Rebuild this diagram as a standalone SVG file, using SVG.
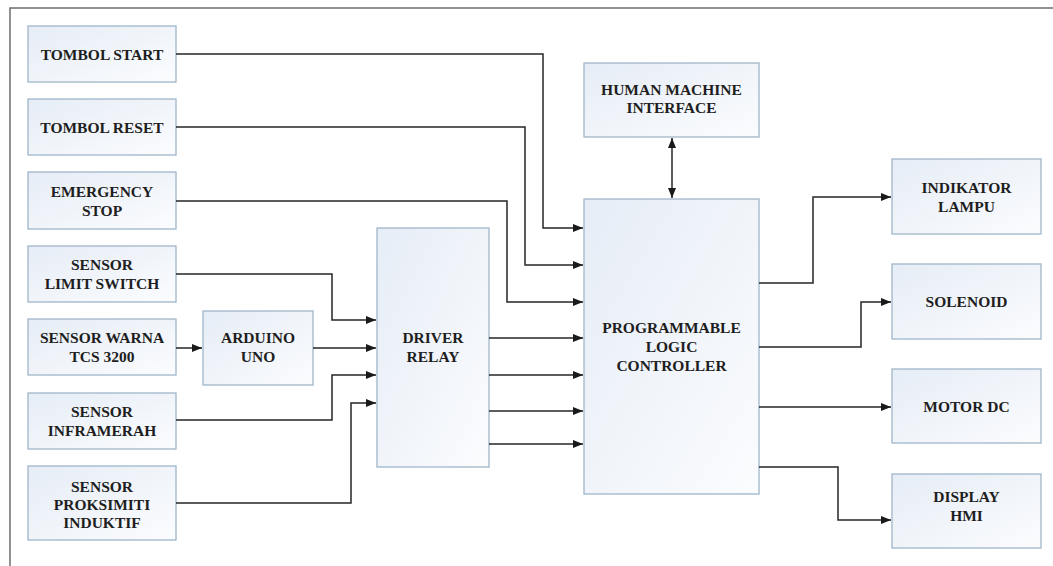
<svg xmlns="http://www.w3.org/2000/svg" width="1053" height="566" viewBox="0 0 1053 566">
<defs>
<linearGradient id="g" x1="0" y1="0" x2="1" y2="1">
<stop offset="0" stop-color="#e6edf6"/>
<stop offset="1" stop-color="#fbfcfe"/>
</linearGradient>
<marker id="ah" viewBox="0 0 10 8" refX="10" refY="4" markerWidth="10" markerHeight="8" markerUnits="userSpaceOnUse" orient="auto-start-reverse">
<path d="M0,0 L10,4 L0,8 z" fill="#1a1a1a"/>
</marker>
<style>
.box{fill:url(#g);stroke:#9fb6c9;stroke-width:1.3}
.t{font-family:"Liberation Serif","Times New Roman",serif;font-weight:bold;font-size:15.5px;fill:#1e1e1e;text-anchor:middle}
.c{fill:none;stroke:#262626;stroke-width:1.5}
.a{marker-end:url(#ah)}
.frame{fill:none;stroke:#6e6e6e;stroke-width:1.5}
</style>
</defs>
<rect width="1053" height="566" fill="#ffffff"/>
<path class="frame" d="M10,566 L10,8 L1053,8"/>

<g id="tombol-start"><rect class="box" x="28" y="26" width="148" height="56"/><text class="t" x="102" y="60">TOMBOL START</text></g>
<g id="tombol-reset"><rect class="box" x="28" y="99" width="148" height="56"/><text class="t" x="102" y="133">TOMBOL RESET</text></g>
<g id="emergency-stop"><rect class="box" x="28" y="172" width="148" height="57"/><text class="t" x="102" y="197">EMERGENCY</text><text class="t" x="102" y="216">STOP</text></g>
<g id="limit-switch"><rect class="box" x="28" y="246" width="148" height="56"/><text class="t" x="102" y="270">SENSOR</text><text class="t" x="102" y="289">LIMIT SWITCH</text></g>
<g id="sensor-warna"><rect class="box" x="28" y="319" width="148" height="56"/><text class="t" x="102" y="343">SENSOR WARNA</text><text class="t" x="102" y="362">TCS 3200</text></g>
<g id="inframerah"><rect class="box" x="28" y="393" width="148" height="56"/><text class="t" x="102" y="417">SENSOR</text><text class="t" x="102" y="436">INFRAMERAH</text></g>
<g id="proksimiti"><rect class="box" x="28" y="466" width="148" height="74"/><text class="t" x="102" y="492">SENSOR</text><text class="t" x="102" y="510">PROKSIMITI</text><text class="t" x="102" y="528">INDUKTIF</text></g>
<g id="arduino"><rect class="box" x="203" y="311" width="110" height="74"/><text class="t" x="258" y="343">ARDUINO</text><text class="t" x="258" y="362">UNO</text></g>
<g id="driver-relay"><rect class="box" x="377" y="228" width="112" height="239"/><text class="t" x="433" y="343">DRIVER</text><text class="t" x="433" y="362">RELAY</text></g>
<g id="hmi"><rect class="box" x="584" y="63" width="175" height="74"/><text class="t" x="671.5" y="95">HUMAN MACHINE</text><text class="t" x="671.5" y="113">INTERFACE</text></g>
<g id="plc"><rect class="box" x="584" y="199" width="175" height="295"/><text class="t" x="671.5" y="333">PROGRAMMABLE</text><text class="t" x="671.5" y="352">LOGIC</text><text class="t" x="671.5" y="371">CONTROLLER</text></g>
<g id="indikator"><rect class="box" x="892" y="159" width="149" height="75"/><text class="t" x="966.5" y="193">INDIKATOR</text><text class="t" x="966.5" y="212">LAMPU</text></g>
<g id="solenoid"><rect class="box" x="892" y="264" width="149" height="75"/><text class="t" x="966.5" y="307">SOLENOID</text></g>
<g id="motor-dc"><rect class="box" x="892" y="369" width="149" height="74"/><text class="t" x="966.5" y="412">MOTOR DC</text></g>
<g id="display-hmi"><rect class="box" x="892" y="474" width="149" height="74"/><text class="t" x="966.5" y="502">DISPLAY</text><text class="t" x="966.5" y="521">HMI</text></g>

<g id="connectors">
<path class="c a" d="M176,54 H543 V228 H583"/>
<path class="c a" d="M176,127 H525 V265 H583"/>
<path class="c a" d="M176,201 H507 V302 H583"/>
<path class="c a" d="M176,274 H332 V320 H376"/>
<path class="c a" d="M176,348 H202"/>
<path class="c a" d="M313,348 H376"/>
<path class="c a" d="M176,420 H332 V375 H376"/>
<path class="c a" d="M176,503 H351 V403 H376"/>
<path class="c a" d="M489,338 H583"/>
<path class="c a" d="M489,375 H583"/>
<path class="c a" d="M489,411 H583"/>
<path class="c a" d="M489,444 H583"/>
<path class="c a" d="M672,138 V198" style="marker-start:url(#ah)"/>
<path class="c a" d="M759,283 H813 V197 H891"/>
<path class="c a" d="M759,347 H861 V302 H891"/>
<path class="c a" d="M759,407 H891"/>
<path class="c a" d="M759,467 H838 V520 H891"/>
</g>
</svg>
